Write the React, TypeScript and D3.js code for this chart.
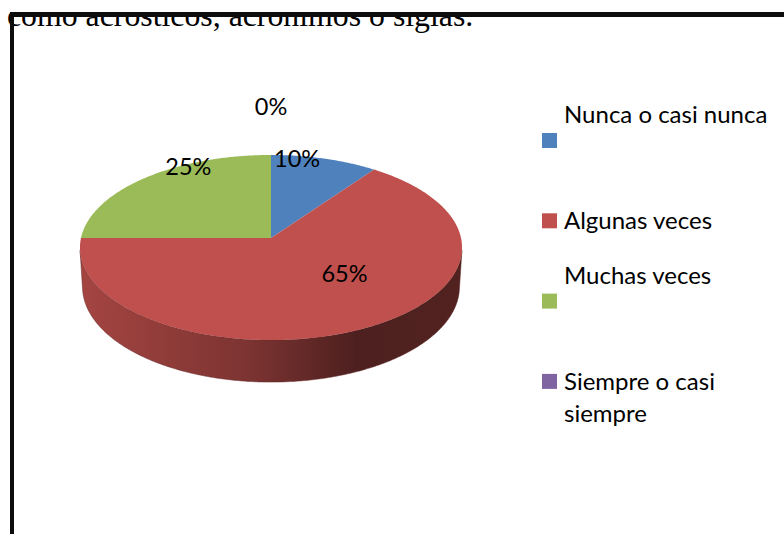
import React from 'react';
import * as d3 from 'd3';

// ---- data ----
const categories = ['Nunca o casi nunca', 'Algunas veces', 'Muchas veces', 'Siempre o casi siempre'];
const values = [10, 65, 25, 0];
const percentLabels = ['10%', '65%', '25%', '0%'];
const colors = ['#4F81BD', '#C0504D', '#9BBB59', '#8064A2'];
const legendLines = [['Nunca o casi nunca', ''], ['Algunas veces'], ['Muchas veces', ''], ['Siempre o casi', 'siempre']];
const titleText = 'como acrósticos, acrónimos o siglas.';

// ---- layout (3D perspective camera) ----
const W = 784, H = 534;
const CX = 271, CY = 238, FOCAL = 1619, DIST = 8.52;
const SIN_E = 0.482, COS_E = Math.sqrt(1 - SIN_E * SIN_E);
const THICK = 0.238;
// Excel "best fit" label positions, polar (deg, radius fraction)
const labelPolar: [number, number][] = [[9, 0.965], [135, 0.526], [331, 0.975], [0, 1.69]];
const FONT = 'Lato, Carlito, Calibri, sans-serif';

function project(theta: number, r: number, h: number): [number, number] {
  const u = r * Math.sin(theta), v = r * Math.cos(theta);
  const yc = v * SIN_E + h * COS_E;
  const zc = DIST + v * COS_E - h * SIN_E;
  return [CX + (FOCAL * u) / zc, CY - (FOCAL * yc) / zc];
}

function arcPts(a0: number, a1: number, h: number): [number, number][] {
  const n = Math.max(2, Math.ceil(Math.abs(a1 - a0) / 0.01));
  return d3.range(n + 1).map((i) => project(a0 + ((a1 - a0) * i) / n, 1, h));
}

const line = d3.line<[number, number]>().x((d) => d[0]).y((d) => d[1]);

function scaleColor(col: string, k: number) {
  const c = d3.rgb(col);
  return d3.rgb(c.r * k, c.g * k, c.b * k).formatHex();
}

export default function App() {
  const pie = d3.pie<number>().sort(null).startAngle(0).endAngle(2 * Math.PI)(values);
  const visLo = Math.acos(-1 / (DIST * COS_E));
  const visHi = 2 * Math.PI - visLo;
  const leftX = project(-Math.PI / 2, 1, 0)[0] - 2;
  const rightX = project(Math.PI / 2, 1, 0)[0] + 2;

  return (
    <svg width={W} height={H} style={{ position: 'absolute', left: 0, top: 0, background: '#fff' }}>
      <defs>
        <clipPath id="pageClip">
          <rect x={0} y={12} width={W} height={H - 12} />
        </clipPath>
        {colors.map((col, i) => (
          <linearGradient key={i} id={`side${i}`} gradientUnits="userSpaceOnUse" x1={leftX} x2={rightX} y1={0} y2={0}>
            <stop offset="0" stopColor={scaleColor(col, 0.86)} />
            <stop offset="0.45" stopColor={scaleColor(col, 0.64)} />
            <stop offset="0.72" stopColor={scaleColor(col, 0.4)} />
            <stop offset="1" stopColor={scaleColor(col, 0.42)} />
          </linearGradient>
        ))}
      </defs>

      <g clipPath="url(#pageClip)">
        <text x={7} y={26} fontFamily="'Liberation Serif', 'Times New Roman', serif" fontSize={31.8} fill="#000">
          {titleText}
        </text>
      </g>

      {/* frame lines */}
      <rect x={10} y={12} width={W - 10} height={5} fill="#0d0d0d" />
      <rect x={10} y={12} width={4} height={H - 12} fill="#0d0d0d" />

      {/* side walls */}
      {pie.map((p, i) => {
        const lo = Math.max(p.startAngle, visLo);
        const hi = Math.min(p.endAngle, visHi);
        if (hi <= lo) return null;
        const pts = [...arcPts(lo, hi, 0), ...arcPts(hi, lo, -THICK)];
        return <path key={`w${i}`} d={line(pts) + 'Z'} fill={`url(#side${i})`} stroke={scaleColor(colors[i], 0.5)} strokeWidth={0.5} />;
      })}

      {/* top faces */}
      {pie.map((p, i) => {
        if (p.endAngle - p.startAngle <= 0) return null;
        const pts = [project(0, 0, 0), ...arcPts(p.startAngle, p.endAngle, 0)];
        return <path key={`t${i}`} d={line(pts) + 'Z'} fill={colors[i]} />;
      })}

      {/* data labels */}
      {pie.map((p, i) => {
        const [deg, r] = labelPolar[i];
        const [x, y] = project((deg * Math.PI) / 180, r, 0);
        return (
          <text key={`l${i}`} x={x} y={y + 8.4} textAnchor="middle" fontFamily={FONT} fontSize={23.5} fill="#000">
            {percentLabels[i]}
          </text>
        );
      })}

      {/* legend */}
      {categories.map((cat, i) => {
        const top = 133 + 80.3 * i;
        const lines = legendLines[i];
        const base = lines.length === 2 && lines[1] === '' ? top - 10 : top + 16;
        return (
          <g key={`g${i}`}>
            <rect x={542} y={top} width={15} height={15} fill={colors[i]} />
            {lines.map((ln, j) =>
              ln ? (
                <text key={j} x={564} y={base + 32.5 * j} fontFamily={FONT} fontSize={24} fill="#000">
                  {ln}
                </text>
              ) : null
            )}
          </g>
        );
      })}
    </svg>
  );
}
